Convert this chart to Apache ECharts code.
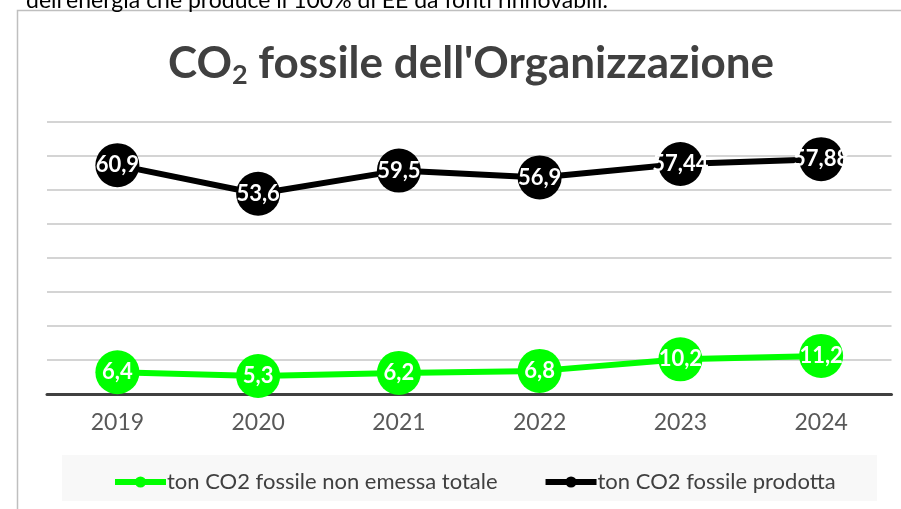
<!DOCTYPE html>
<html>
<head>
<meta charset="utf-8">
<style>
	html, body { margin: 0; padding: 0; background: #fff; }
	#chart { width: 901px; height: 509px; }
</style>
<script src="https://cdn.jsdelivr.net/npm/echarts@6/dist/echarts.min.js"></script>
</head>
<body>
<div id="chart"></div>
<script>
	var years = ['2019', '2020', '2021', '2022', '2023', '2024'];
	var nonEmessa = [6.4, 5.3, 6.2, 6.8, 10.2, 11.2];
	var prodotta = [60.9, 53.6, 59.5, 56.9, 57.44, 57.88];
	var seriesNames = ['ton CO2 fossile non emessa totale', 'ton CO2 fossile prodotta'];

	var font = 'Lato, "Noto Sans", sans-serif';

	function comma(p) {
		return String(p.value).replace('.', ',');
	}

	var chart = echarts.init(document.getElementById('chart'));
	chart.setOption({
		animation: false,
		textStyle: { fontFamily: font },
		title: {
			text: '{a|CO}{s|2}{a| fossile dell\'Organizzazione}',
			left: 466,
			top: 33,
			textAlign: 'center',
			textStyle: {
				rich: {
					a: { fontFamily: font, fontSize: 44, fontWeight: 'bold', color: '#404040' },
					s: { fontFamily: font, fontSize: 27, fontWeight: 'bold', color: '#404040', padding: [24, 0, 0, 0] }
				}
			}
		},
		graphic: [
			{
				type: 'rect',
				shape: { x: 17.5, y: 10.5, width: 1000, height: 600 },
				style: { fill: 'none', stroke: '#bfbfbf', lineWidth: 1.5 },
				z: -10
			},
			{
				type: 'rect',
				shape: { x: 62, y: 455, width: 815, height: 46 },
				style: { fill: '#f8f8f8' },
				z: -5
			},
			{
				type: 'text',
				left: 26,
				top: -11,
				style: {
					text: 'dell\'energia che produce il 100% di EE da fonti rinnovabili.',
					fontFamily: font,
					fontSize: 23,
					fill: '#000'
				}
			}
		],
		legend: {
			left: 107,
			top: 466,
			itemWidth: 51,
			itemHeight: 14,
			itemGap: 45,
			data: seriesNames,
			lineStyle: { width: 6 },
			textStyle: { fontFamily: font, fontSize: 22, color: '#404040', padding: [0, 0, 0, -4] }
		},
		grid: { left: 47, right: 9.5, top: 122, bottom: 115 },
		xAxis: {
			type: 'category',
			data: years,
			boundaryGap: true,
			axisLine: { lineStyle: { color: '#404040', width: 3 } },
			axisTick: { show: false },
			axisLabel: { color: '#595959', fontSize: 23, margin: 17, fontFamily: font }
		},
		yAxis: {
			type: 'value',
			min: 0,
			max: 80,
			interval: 10,
			axisLabel: { show: false },
			axisLine: { show: false },
			axisTick: { show: false },
			splitLine: { lineStyle: { color: '#d4d4d4', width: 2 } }
		},
		series: [
			{
				name: seriesNames[0],
				type: 'line',
				stack: 'co2',
				data: nonEmessa,
				color: '#00ff00',
				symbol: 'circle',
				symbolSize: 44,
				lineStyle: { width: 6, color: '#00ff00' },
				itemStyle: { color: '#00ff00' },
				label: {
					show: true,
					position: 'inside',
					formatter: comma,
					color: '#fff',
					fontWeight: 'bold',
					fontSize: 22,
					fontFamily: font
				},
				z: 2
			},
			{
				name: seriesNames[1],
				type: 'line',
				stack: 'co2',
				data: prodotta,
				color: '#000',
				symbol: 'circle',
				symbolSize: 44,
				lineStyle: { width: 6, color: '#000' },
				itemStyle: { color: '#000' },
				label: {
					show: true,
					position: 'inside',
					formatter: comma,
					color: '#fff',
					fontWeight: 'bold',
					fontSize: 22,
					fontFamily: font
				},
				z: 3
			}
		]
	});
</script>
</body>
</html>
